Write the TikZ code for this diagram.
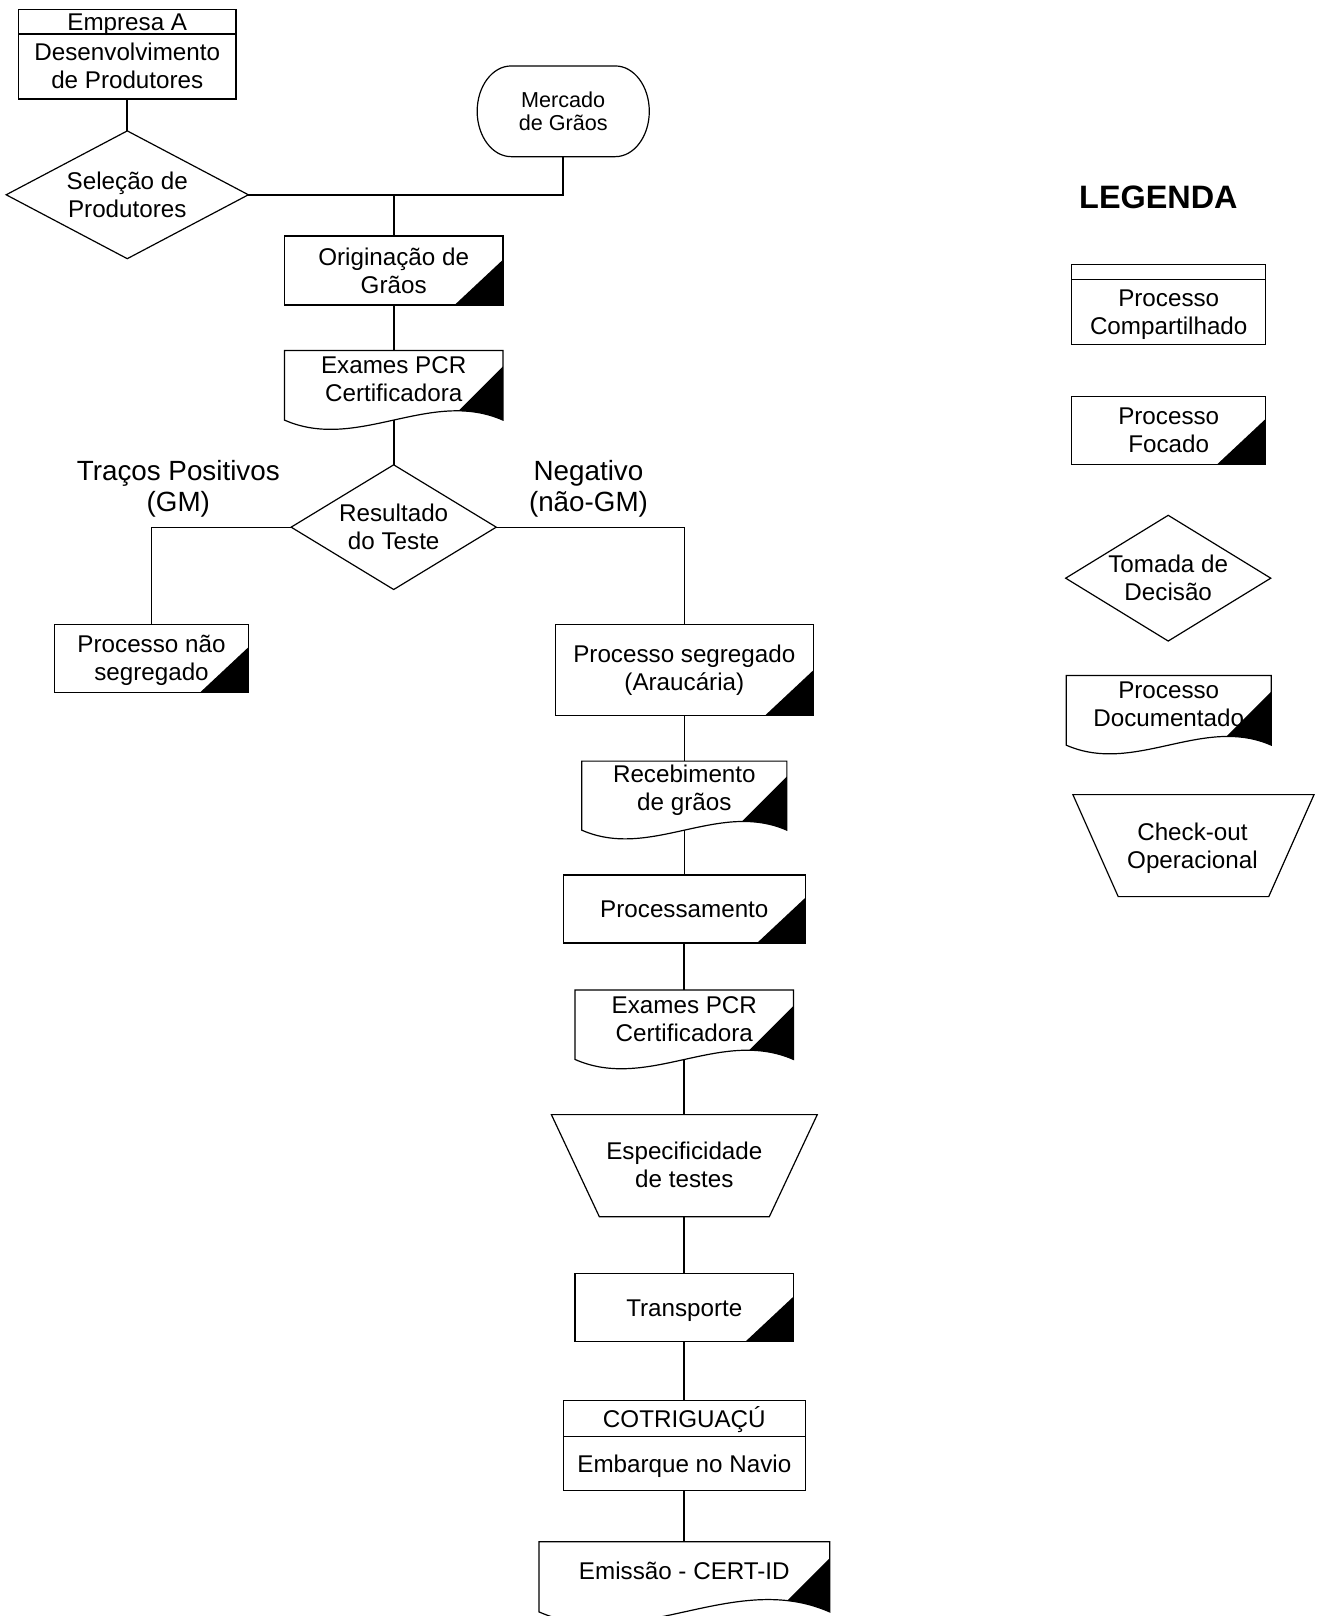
\documentclass[tikz,border=0pt]{standalone}
\usepackage{fontspec}
\setmainfont{Liberation Sans}
\usetikzlibrary{shapes.geometric,fit}

\newcommand\NodeFont{\fontsize{12.1pt}{13.9pt}\selectfont}
\newcommand\SmallFont{\fontsize{10.8pt}{11.9pt}\selectfont}
\newcommand\LabFont{\fontsize{13.9pt}{15.5pt}\selectfont}
\newcommand\TitleFont{\fontsize{16.2pt}{18pt}\selectfont\bfseries}

% Document symbol with wavy lower edge and black corner mark
% #1 name, #2 left x, #3 top y, #4 right x, #5 corner y, #6 text
\newcommand\DocShape[6]{%
  \coordinate (#1-nw) at (#2,#3);
  \coordinate (#1-se) at (#4,#5);
  \node[fit=(#1-nw)(#1-se), inner sep=0pt, outer sep=0pt] (#1) {};
  \node[txt] (#1-t) at ({(#2+#4)/2},{#3+28}) {#6};
  \begin{scope}
    \clip (#2,#3) -- (#4,#3) -- (#4,#5)
      .. controls ({#2+2*(#4-#2)/3},{#5-0.147*(#4-#2)}) and ({#2+(#4-#2)/3},{#5+0.147*(#4-#2)}) .. (#2,#5) -- cycle;
    \fill (#4,{#5-52}) -- ({#4-100},{#5+48}) -- (#4,{#5+48}) -- cycle;
  \end{scope}
  \draw (#2,#3) -- (#4,#3) -- (#4,#5)
    .. controls ({#2+2*(#4-#2)/3},{#5-0.147*(#4-#2)}) and ({#2+(#4-#2)/3},{#5+0.147*(#4-#2)}) .. (#2,#5) -- cycle;
}

\begin{document}
\begin{tikzpicture}[x=0.5152pt,y=-0.5152pt,line width=0.6pt,
  sz/.style 2 args={minimum width=#1*0.5152pt, minimum height=#2*0.5152pt},
  box/.style={draw, rectangle, inner sep=0pt, outer sep=0pt, align=center, font=\NodeFont},
  focus/.style={box, path picture={\fill (path picture bounding box.south east) -- ++(-47,0) -- ++(47,-44) -- cycle;}},
  decision/.style={draw, diamond, inner sep=0pt, outer sep=0pt},
  txt/.style={align=center, inner sep=0pt, font=\NodeFont},
  oneline/.style={text height=8.7pt, text depth=0pt},
  lab/.style={align=center, inner sep=0pt, font=\LabFont},
  conn/.style={line width=1.1pt},
  thinconn/.style={line width=0.6pt}]

\useasboundingbox (0,0) rectangle (1283,1568);

% ---------- main flow ----------
% Empresa A
\node[box, sz={211}{87}] (emp) at (123.5,52.5) {};
\draw ([yshift=-24*0.5152pt]emp.north west) -- ([yshift=-24*0.5152pt]emp.north east);
\node[txt, oneline] (emp-h) at (123.5,21.5) {Empresa A};
\node[txt] (emp-t) at (123.5,64) {Desenvolvimento\\de Produtores};

% Seleção de Produtores
\node[decision, sz={235}{124}] (sel) at (123.5,189) {};
\node[txt] (sel-t) at (123.5,189) {Seleção de\\Produtores};

% Mercado de Grãos (terminator)
\node[sz={167}{88}, inner sep=0pt, align=center, font=\SmallFont] (merc) at (546.5,108) {Mercado\\de Grãos};
\draw (496,64) -- (597,64) arc[start angle=-90,end angle=90,x radius=33,y radius=44]
  -- (496,152) arc[start angle=90,end angle=270,x radius=33,y radius=44] -- cycle;

% Originação de Grãos
\node[focus, sz={212}{67}] (orig) at (382,262.5) {Originação de\\Grãos};

% Exames PCR
\DocShape{ex1}{276}{340}{488}{407.6}{Exames PCR\\Certificadora}

% Resultado do Teste
\node[decision, sz={199}{121}] (res) at (382,511.5) {};
\node[txt] (res-t) at (382,511) {Resultado\\do Teste};

\node[lab] (pos) at (173,474) {Traços Positivos\\(GM)};
\node[lab] (neg) at (571,474) {Negativo\\(não-GM)};

% Branches
\node[focus, sz={188}{66}] (nseg) at (147,639) {};
\node[txt] (nseg-t) at (147,640.5) {Processo não\\segregado};
\node[focus, sz={250}{88.5}] (seg) at (664,650.25) {Processo segregado\\(Araucária)};

\DocShape{rec}{564.5}{738.5}{763.5}{805.5}{Recebimento\\de grãos}

\node[focus, sz={235}{66}, oneline] (proc) at (664,882) {Processamento};

\DocShape{ex2}{558}{960.5}{770}{1028}{Exames PCR\\Certificadora}

% Especificidade de testes (check-out)
\coordinate (esp-nw) at (535,1081.5);
\coordinate (esp-se) at (793,1180.5);
\node[fit=(esp-nw)(esp-se), inner sep=0pt, outer sep=0pt] (esp) {};
\draw (535,1081.5) -- (793,1081.5) -- (746.5,1180.5) -- (581.5,1180.5) -- cycle;
\node[txt] (esp-t) at (664,1130) {Especificidade\\de testes};

\node[focus, sz={212}{66}, oneline] (transp) at (664,1269) {Transporte};

% COTRIGUAÇÚ
\node[box, sz={235}{88}] (cot) at (664,1402.5) {};
\draw ([yshift=-35.5*0.5152pt]cot.north west) -- ([yshift=-35.5*0.5152pt]cot.north east);
\node[txt, oneline] (cot-h) at (664,1377) {COTRIGUAÇÚ};
\node[txt, oneline] (cot-t) at (664,1420) {Embarque no Navio};

\DocShape{emi}{523}{1496}{805}{1564}{Emissão - CERT-ID}

% ---------- connectors ----------
\draw[conn] (emp.south) -- (sel.north);
\draw[conn] (sel.east) -- (sel.east -| merc.south) -- (merc.south);
\draw[conn] (sel.east -| orig.north) -- (orig.north);
\draw[conn] (orig.south) -- (ex1.north);
\draw[conn] (ex1.south) -- (res.north);
\draw[thinconn] (res.west) -| (nseg.north);
\draw[thinconn] (res.east) -| (seg.north);
\draw[thinconn] (seg.south) -- (rec.north);
\draw[thinconn] (rec.south) -- (proc.north);
\draw[conn] (proc.south) -- (ex2.north);
\draw[conn] (ex2.south) -- (esp.north);
\draw[conn] (esp.south) -- (transp.north);
\draw[conn] (transp.south) -- (cot.north);
\draw[conn] (cot.south) -- (emi.north);

% ---------- legend ----------
\node[font=\TitleFont, inner sep=0pt] (leg) at (1124,191) {LEGENDA};

\node[box, sz={188}{77}] (lg1) at (1134,295.5) {};
\draw ([yshift=-14*0.5152pt]lg1.north west) -- ([yshift=-14*0.5152pt]lg1.north east);
\node[txt] (lg1-t) at (1134,305) {Processo\\Compartilhado};

\node[focus, sz={188}{65.5}] (lg2) at (1134,417.75) {Processo\\Focado};

\node[decision, sz={199}{122}] (lg3) at (1133.5,561) {};
\node[txt] (lg3-t) at (1133.5,560.5) {Tomada de\\Decisão};

\DocShape{lg4}{1034.5}{655.5}{1233.5}{723}{Processo\\Documentado}

\coordinate (lg5-nw) at (1041,771);
\coordinate (lg5-se) at (1275,870);
\node[fit=(lg5-nw)(lg5-se), inner sep=0pt, outer sep=0pt] (lg5) {};
\draw (1041,771) -- (1275,771) -- (1231,870) -- (1085,870) -- cycle;
\node[txt] (lg5-t) at (1157,823) {Check-out\\Operacional};

\end{tikzpicture}
\end{document}
